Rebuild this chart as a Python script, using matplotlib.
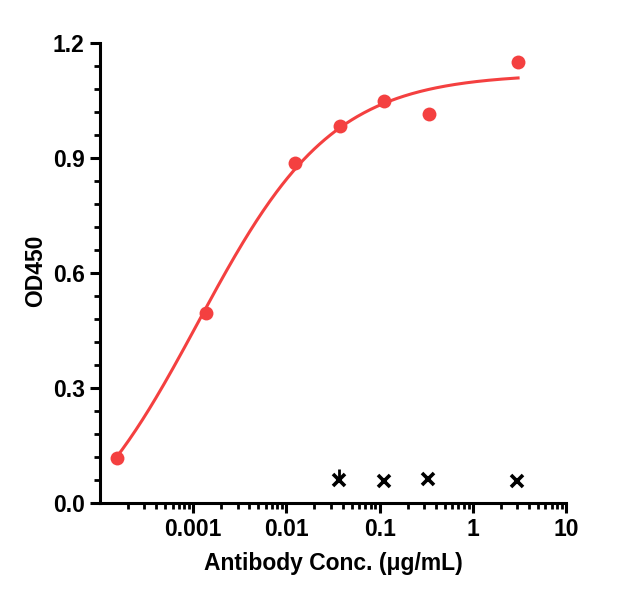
import numpy as np
import matplotlib
matplotlib.use('Agg')
import matplotlib.pyplot as plt
from matplotlib.ticker import LogLocator, MultipleLocator, FixedLocator, NullFormatter

# data
conc = [0.000152, 0.00138, 0.01245, 0.0372, 0.112, 0.338, 3.06]
od450 = [0.117, 0.4965, 0.886, 0.9836, 1.049, 1.014, 1.151]
ctrl_conc = [0.037, 0.112, 0.333, 3.0]
ctrl_od = [0.06, 0.058, 0.062, 0.058]
x_ticks = [0.001, 0.01, 0.1, 1, 10]
x_tick_labels = ['0.001', '0.01', '0.1', '1', '10']
y_ticks = [0.0, 0.3, 0.6, 0.9, 1.2]

red = '#f44040'


def four_pl(x, a, d, c, b):
    return d + (a - d) / (1.0 + (x / c) ** b)


def fit_4pl(x, y):
    # coarse grid search, numpy only
    x = np.asarray(x)
    y = np.asarray(y)
    A = np.linspace(-0.3, 0.3, 31)
    D = np.linspace(1.0, 1.3, 31)
    LC = np.linspace(-4, -1.5, 51)
    B = np.linspace(0.3, 1.5, 49)
    a, d, lc, b = np.meshgrid(A, D, LC, B, indexing='ij')
    pred = d[..., None] + (a - d)[..., None] / (1.0 + (x / 10 ** lc[..., None]) ** b[..., None])
    sse = ((pred - y) ** 2).sum(axis=-1)
    i = np.unravel_index(np.argmin(sse), sse.shape)
    return A[i[0]], D[i[1]], 10 ** LC[i[2]], B[i[3]]


plt.rcParams['font.family'] = ['Liberation Sans', 'DejaVu Sans']
plt.rcParams['font.weight'] = 'bold'

fig = plt.figure(figsize=(6.43, 6.01), dpi=100)
ax = fig.add_axes([100 / 643, 98 / 601, 466 / 643, 460 / 601])

p = fit_4pl(conc, od450)
xs = np.logspace(np.log10(conc[0]), np.log10(conc[-1]), 300)
ax.plot(xs, four_pl(xs, *p), color=red, lw=2.2, zorder=2)
ax.plot(conc, od450, 'o', color=red, ms=10, mec='none', zorder=3)

ax.plot(ctrl_conc, ctrl_od, 'x', color='black', ms=8, mew=2.6, zorder=3)
ax.errorbar(ctrl_conc[:1], ctrl_od[:1], yerr=[[0], [0.03]], fmt='none',
            ecolor='black', elinewidth=2, capsize=0)

ax.set_xscale('log')
ax.set_xlim(1e-4, 10)
ax.set_ylim(0, 1.2)

ax.xaxis.set_major_locator(FixedLocator(x_ticks))
ax.set_xticklabels(x_tick_labels)
ax.xaxis.set_minor_locator(LogLocator(base=10, subs=np.arange(2, 10)))
ax.xaxis.set_minor_formatter(NullFormatter())
ax.yaxis.set_major_locator(FixedLocator(y_ticks))
ax.set_yticklabels(['%.1f' % v for v in y_ticks])
ax.yaxis.set_minor_locator(MultipleLocator(0.06))

for s in ['top', 'right']:
    ax.spines[s].set_visible(False)
for s in ['left', 'bottom']:
    ax.spines[s].set_linewidth(2.2)

ax.tick_params(which='major', length=7, width=2.2, labelsize=16.5, pad=4)
ax.tick_params(which='minor', length=4, width=2)

ax.set_xlabel('Antibody Conc. (μg/mL)', fontsize=16.5, fontweight='bold', labelpad=8)
ax.set_ylabel('OD450', fontsize=16.5, fontweight='bold')
ax.yaxis.set_label_coords(-0.113, 0.505)

fig.savefig('out.png', dpi=100)
